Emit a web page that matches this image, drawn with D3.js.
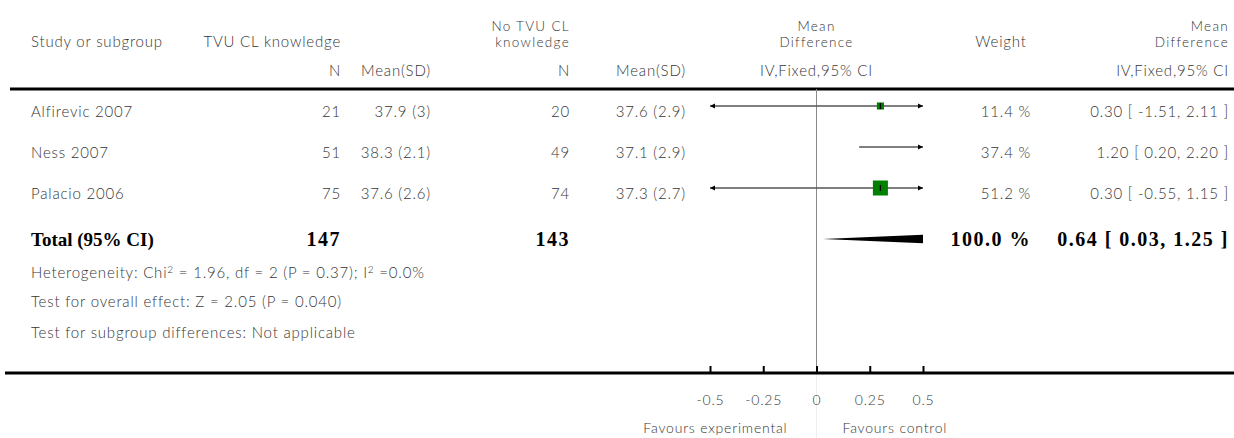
<!DOCTYPE html>
<html>
<head>
<meta charset="utf-8">
<script src="https://cdn.jsdelivr.net/npm/d3@7"></script>
<style>
  html, body { margin: 0; padding: 0; background: #fff; }
  svg { display: block; }
  .t { font-family: Lato, "Open Sans", sans-serif; font-weight: 300; font-size: 15px; fill: #363636; letter-spacing: 0.8px; }
  .h2 { font-size: 13.5px; letter-spacing: 1.3px; }
  .b { font-family: "Liberation Serif", "Times New Roman", serif; font-weight: bold; font-size: 20px; fill: #000; }
  .bl { font-size: 19px; }
  .bn { letter-spacing: 1.5px; }
</style>
</head>
<body>
<svg id="chart" width="1234" height="438"></svg>
<script>
// Studies comparing TVU cervical-length knowledge vs. no knowledge
const studies   = ["Alfirevic 2007", "Ness 2007", "Palacio 2006"];
const expN      = [21, 51, 75];
const expMean   = [37.9, 38.3, 37.6];
const expSD     = [3, 2.1, 2.6];
const ctlN      = [20, 49, 74];
const ctlMean   = [37.6, 37.1, 37.3];
const ctlSD     = [2.9, 2.9, 2.7];
const weights   = [11.4, 37.4, 51.2];
const md        = [0.30, 1.20, 0.30];
const ciLow     = [-1.51, 0.20, -0.55];
const ciHigh    = [2.11, 2.20, 1.15];

// Pooled estimate
const totalN      = [147, 143];
const totalWeight = 100.0;
const totalMD     = 0.64;
const totalLow    = 0.03;
const totalHigh   = 1.25;

const axisTicks = [-0.5, -0.25, 0, 0.25, 0.5];
const footnotes = [
  ["Heterogeneity: Chi", "2", " = 1.96, df = 2 (P = 0.37); I", "2", " =0.0%"],
  ["Test for overall effect: Z = 2.05 (P = 0.040)"],
  ["Test for subgroup differences: Not applicable"]
];

const svg = d3.select("#chart");
// Plain hyphen for negative numbers
const locale = d3.formatLocale({ decimal: ".", thousands: ",", grouping: [3], currency: ["", ""], minus: "-" });
const f2 = locale.format(".2f");
const f1 = locale.format(".1f");

// Column anchors
const col = {
  study: 31, n1: 341, m1: 431, n2: 570, m2: 686,
  weight: 1031, ci: 1229
};

const x = d3.scaleLinear().domain([-0.5, 0.5]).range([710, 923]);
const rowY = d3.scalePoint().domain(studies).range([106, 188]);

function txt(xp, yp, s, anchor, cls) {
  return svg.append("text").attr("class", cls || "t")
    .attr("x", xp).attr("y", yp).attr("text-anchor", anchor || "start").text(s);
}
// Two-line header label
function txt2(xp, yp, lines, anchor) {
  const t = svg.append("text").attr("class", "t h2")
    .attr("x", xp).attr("y", yp).attr("text-anchor", anchor || "start");
  lines.forEach((l, i) => t.append("tspan").attr("x", xp).attr("dy", i ? 16.5 : 0).text(l));
  return t;
}

// Header
txt(col.study, 47, "Study or subgroup");
txt(col.n1, 47, "TVU CL knowledge", "end");
txt2(col.n2, 30.5, ["No TVU CL", "knowledge"], "end");
txt2(x(0), 30.5, ["Mean", "Difference"], "middle");
txt(x(0), 76, "IV,Fixed,95% CI", "middle");
txt(1001, 47, "Weight", "middle");
txt2(col.ci, 30.5, ["Mean", "Difference"], "end");
txt(col.ci, 76, "IV,Fixed,95% CI", "end");
txt(col.n1, 76, "N", "end");
txt(col.m1, 76, "Mean(SD)", "end");
txt(col.n2, 76, "N", "end");
txt(col.m2, 76, "Mean(SD)", "end");

// Rules
svg.append("line").attr("x1", 10).attr("x2", 1234).attr("y1", 89).attr("y2", 89)
  .attr("stroke", "#000").attr("stroke-width", 3);

// Zero reference line
svg.append("line").attr("x1", x(0)).attr("x2", x(0)).attr("y1", 89).attr("y2", 373)
  .attr("stroke", "#8a8a8a").attr("stroke-width", 1);
svg.append("line").attr("x1", x(0)).attr("x2", x(0)).attr("y1", 373).attr("y2", 438)
  .attr("stroke", "#eeeeee").attr("stroke-width", 1);

// Study rows
studies.forEach((s, i) => {
  const cy = rowY(s);
  const ty = cy + 11;
  txt(col.study, ty, s);
  txt(col.n1, ty, String(expN[i]), "end");
  txt(col.m1, ty, `${expMean[i]} (${expSD[i]})`, "end");
  txt(col.n2, ty, String(ctlN[i]), "end");
  txt(col.m2, ty, `${ctlMean[i]} (${ctlSD[i]})`, "end");
  txt(col.weight, ty, `${f1(weights[i])} %`, "end");
  txt(col.ci, ty, `${f2(md[i])} [ ${f2(ciLow[i])}, ${f2(ciHigh[i])} ]`, "end");

  const [d0, d1] = x.domain();
  const lo = Math.max(ciLow[i], d0), hi = Math.min(ciHigh[i], d1);
  svg.append("line").attr("x1", x(lo)).attr("x2", x(hi)).attr("y1", cy).attr("y2", cy)
    .attr("stroke", "#555").attr("stroke-width", 1.6);
  if (ciLow[i] < d0) {
    const ax = x(d0);
    svg.append("path").attr("d", `M${ax},${cy} L${ax + 5},${cy - 2.5} L${ax + 5},${cy + 2.5} Z`).attr("fill", "#000");
  }
  if (ciHigh[i] > d1) {
    const ax = x(d1);
    svg.append("path").attr("d", `M${ax},${cy} L${ax - 5},${cy - 2.5} L${ax - 5},${cy + 2.5} Z`).attr("fill", "#000");
  }
  if (md[i] >= d0 && md[i] <= d1) {
    const side = 2.1 * Math.sqrt(weights[i]);
    svg.append("rect").attr("x", x(md[i]) - side / 2).attr("y", cy - side / 2)
      .attr("width", side).attr("height", side).attr("fill", "#008000");
    svg.append("line").attr("x1", x(md[i])).attr("x2", x(md[i]))
      .attr("y1", cy - 3).attr("y2", cy + 3).attr("stroke", "#000").attr("stroke-width", 1.3);
  }
});

// Total row
const totY = 246;
txt(col.study, totY, "Total (95% CI)", "start", "b bl");
txt(col.n1, totY, String(totalN[0]), "end", "b bn");
txt(col.n2, totY, String(totalN[1]), "end", "b bn");
txt(col.weight, totY, `${f1(totalWeight)} %`, "end", "b bn");
txt(col.ci, totY, `${f2(totalMD)} [ ${f2(totalLow)}, ${f2(totalHigh)} ]`, "end", "b bn");

svg.append("clipPath").attr("id", "plotClip").append("rect")
  .attr("x", x.range()[0]).attr("y", 0).attr("width", x.range()[1] - x.range()[0]).attr("height", 438);
const dy = 239, dh = 5.5;
svg.append("path")
  .attr("clip-path", "url(#plotClip)")
  .attr("d", `M${x(totalLow)},${dy} L${x(totalMD)},${dy - dh} L${x(totalHigh)},${dy} L${x(totalMD)},${dy + dh} Z`)
  .attr("fill", "#000");

// Footnotes
const footY = [278, 307, 338];
footnotes.forEach((parts, i) => {
  const t = svg.append("text").attr("class", "t").attr("x", col.study).attr("y", footY[i]);
  parts.forEach((p, j) => {
    const isSup = parts.length > 1 && (j === 1 || j === 3);
    const sp = t.append("tspan").text(p);
    if (isSup) sp.attr("dy", -5).style("font-size", "10px");
    else if (j > 0) sp.attr("dy", 5);
  });
});

// Bottom axis
svg.append("line").attr("x1", 5).attr("x2", 1234).attr("y1", 373).attr("y2", 373)
  .attr("stroke", "#000").attr("stroke-width", 3);
const axis = d3.axisBottom(x).tickValues(axisTicks).tickSizeInner(-7).tickSizeOuter(0)
  .tickPadding(22).tickFormat(d => String(d));
const ag = svg.append("g").attr("transform", "translate(0,373)").call(axis);
ag.select(".domain").remove();
ag.selectAll(".tick line").attr("stroke", "#000").attr("stroke-width", 2);
ag.selectAll(".tick text").attr("class", "t").attr("fill", null).style("font-size", "14px");

txt(x(0) - 29, 433, "Favours experimental", "end").style("font-size", "14px");
txt(x(0) + 26, 433, "Favours control", "start").style("font-size", "14px");
</script>
</body>
</html>
